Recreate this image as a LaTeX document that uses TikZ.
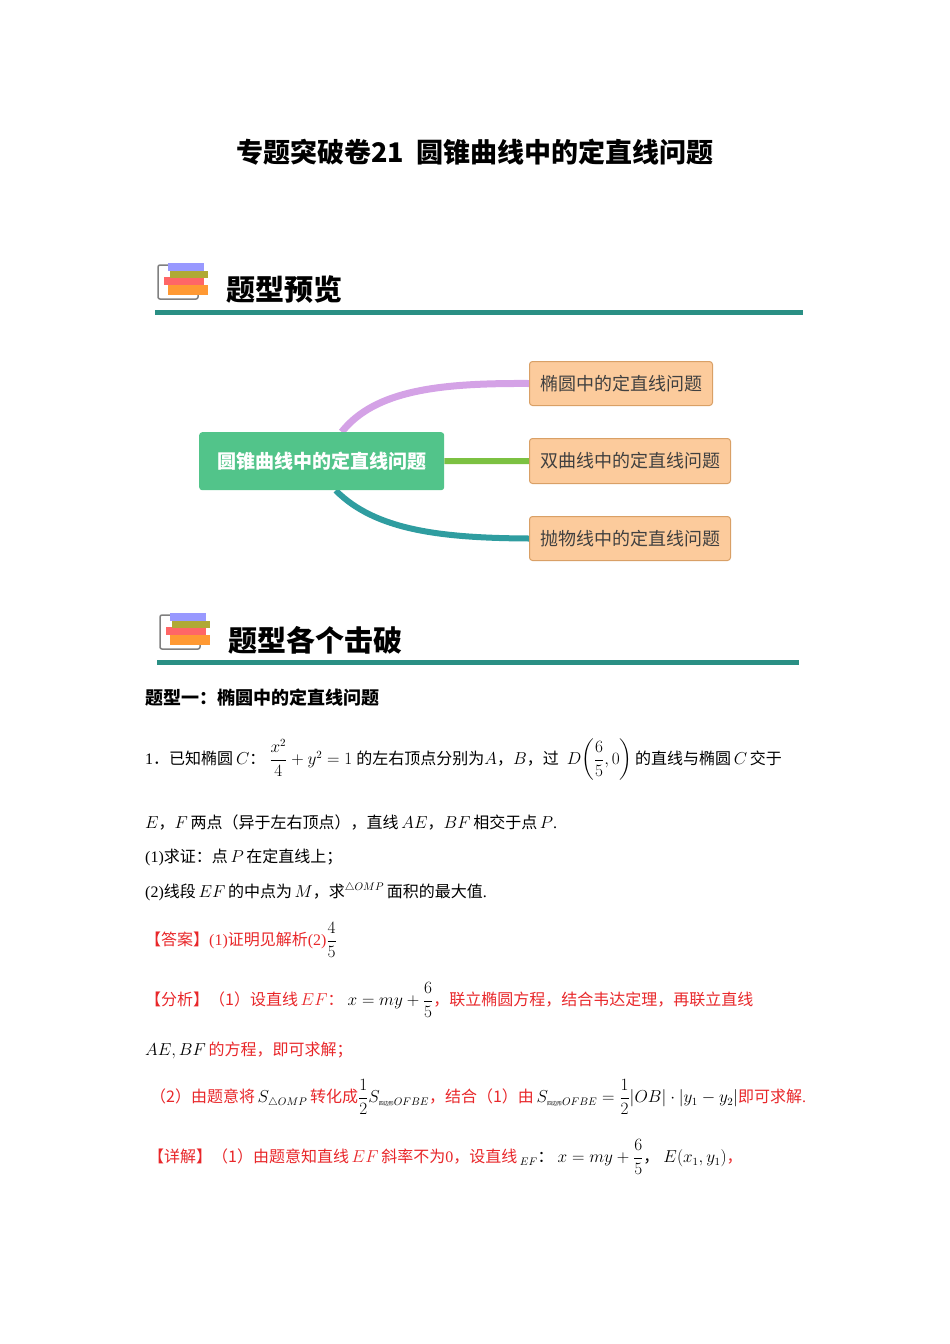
\documentclass[tikz,border=0pt]{standalone}
\usepackage{fontspec}
\setmainfont{Liberation Serif}
\newfontfamily\cjk{Noto Sans CJK SC}
\usepackage{amsmath}
\usetikzlibrary{backgrounds}
\newcommand\cmx{{\cjk ，}}
\newcommand\clx{{\cjk ：}}
\newcommand\dtx{{\cjk ．}}
\definecolor{teal1}{HTML}{2A8F84}
\definecolor{gbox}{HTML}{52C48A}
\definecolor{obox}{HTML}{FCCB9C}
\definecolor{oline}{HTML}{D9A066}
\definecolor{pur}{HTML}{D4A2E6}
\definecolor{grn}{HTML}{7CC142}
\definecolor{tl}{HTML}{2F9DA0}
\definecolor{rd}{HTML}{E8272A}
\tikzset{
 t/.style={anchor=west,inner sep=0pt,font=\fontsize{16}{19}\selectfont},
 rt/.style={t,text=rd},
 ob/.style={draw=oline,fill=obox,rounded corners=3pt,line width=1pt,anchor=north west,inner sep=0pt,font=\cjk\fontsize{18}{20}\selectfont,text=black!75},
}
\begin{document}
\begin{tikzpicture}[x=1pt,y=-1pt]
\useasboundingbox (0,0) rectangle (950,1344);
\node (title) at (475,152) {\cjk\bfseries\fontsize{27}{30}\selectfont 专题突破卷21\ \ 圆锥曲线中的定直线问题};
\foreach \yy/\xx/\ww/\txt/\nm in {281/158/648/题型预览/h1, 631/160/642/题型各个击破/h2}{
 \draw[gray,line width=1.5pt,rounded corners=2pt] (\xx,\yy-16) rectangle (\xx+40,\yy+18);
 \fill[orange!80] (\xx+10,\yy+4) rectangle (\xx+50,\yy+14);
 \fill[red!60] (\xx+6,\yy-4) rectangle (\xx+46,\yy+4);
 \fill[olive!70] (\xx+12,\yy-10) rectangle (\xx+50,\yy-3);
 \fill[blue!40] (\xx+10,\yy-18) rectangle (\xx+46,\yy-10);
 \node[anchor=west,inner sep=0pt] (\nm) at (\xx+68,\yy+9) {\cjk\bfseries\fontsize{29}{32}\selectfont \txt};
 \fill[teal1] (\xx-3,\yy+29) rectangle (\xx-3+\ww,\yy+34);
}
\node[fill=gbox,rounded corners=3pt,minimum width=245pt,minimum height=58pt,anchor=north west,inner sep=0pt,text=white,font=\cjk\bfseries\fontsize{19}{20}\selectfont] (c) at (199,432) {圆锥曲线中的定直线问题};
\node[ob,minimum width=183pt,minimum height=44pt] (b1) at (529,361) {椭圆中的定直线问题};
\node[ob,minimum width=201pt,minimum height=45pt] (b2) at (529,438) {双曲线中的定直线问题};
\node[ob,minimum width=201pt,minimum height=44pt] (b3) at (529,516) {抛物线中的定直线问题};
\begin{scope}[on background layer]
\draw[pur,line width=7pt] ([xshift=20pt]c.north) .. controls (375,390) and (440,383) .. (b1.west);
\draw[grn,line width=6pt] (c.east) -- (b2.west);
\draw[tl,line width=6pt] ([xshift=14pt]c.south) .. controls (375,530) and (440,538) .. (b3.west);
\end{scope}
\node[anchor=west,inner sep=0pt] (s1) at (145,698) {\cjk\bfseries\fontsize{18}{20}\selectfont 题型一：椭圆中的定直线问题};
\node[t] (p1) at (145,760) {1\dtx{\cjk 已知椭圆}$\,C$\clx\ $\dfrac{x^2}{4}+y^2=1$\ {\cjk 的左右顶点分别为}$A$\cmx$B$\cmx{\cjk 过}\ \ $D\!\left(\dfrac{6}{5},0\right)$\,{\cjk 的直线与椭圆}\,$C$\,{\cjk 交于}};
\node[t] (p2) at (145,822) {$E$\cmx$F$\,{\cjk 两点（异于左右顶点），直线}\,$AE$\cmx$BF$\,{\cjk 相交于点}\,$P$.};
\node[t] (p3) at (145,857) {(1){\cjk 求证：点}\,$P$\,{\cjk 在定直线上；}};
\node[t] (p4) at (145,892) {(2){\cjk 线段}\,$EF$\,{\cjk 的中点为}\,$M$\cmx{\cjk 求}$^{\triangle OMP}$\,{\cjk 面积的最大值}.};
\node[rt] (p5) at (145,940) {{\cjk 【答案】}(1){\cjk 证明见解析}(2)\textcolor{black}{$\dfrac{4}{5}$}};
\node[rt] (p6) at (145,1000) {{\cjk 【分析】（1）设直线}\,$EF$\clx\ \textcolor{black}{$x=my+\dfrac{6}{5}$}\cmx{\cjk 联立椭圆方程，结合韦达定理，再联立直线}};
\node[rt] (p7) at (145,1050) {\textcolor{black}{$AE,BF$}\,{\cjk 的方程，即可求解；}};
\node[rt] (p8) at (150,1097) {{\cjk （2）由题意将}\,\textcolor{black}{$S_{\triangle OMP}$}\,{\cjk 转化成}\textcolor{black}{$\dfrac12 S_{\text{\cjk\tiny 四边形}OFBE}$}\cmx{\cjk 结合（1）由}\,\textcolor{black}{$S_{\text{\cjk\tiny 四边形}OFBE}=\dfrac12|OB|\cdot|y_1-y_2|$}{\cjk 即可求解}.};
\node[rt] (p9) at (148,1157) {{\cjk 【详解】（1）由题意知直线}\,$EF$\,{\cjk 斜率不为}0\cmx{\cjk 设直线}\,\textcolor{black}{$_{EF}$\clx\ $x=my+\dfrac{6}{5}$\cmx\ $E(x_1,y_1)$}\cmx};
\end{tikzpicture}
\end{document}
